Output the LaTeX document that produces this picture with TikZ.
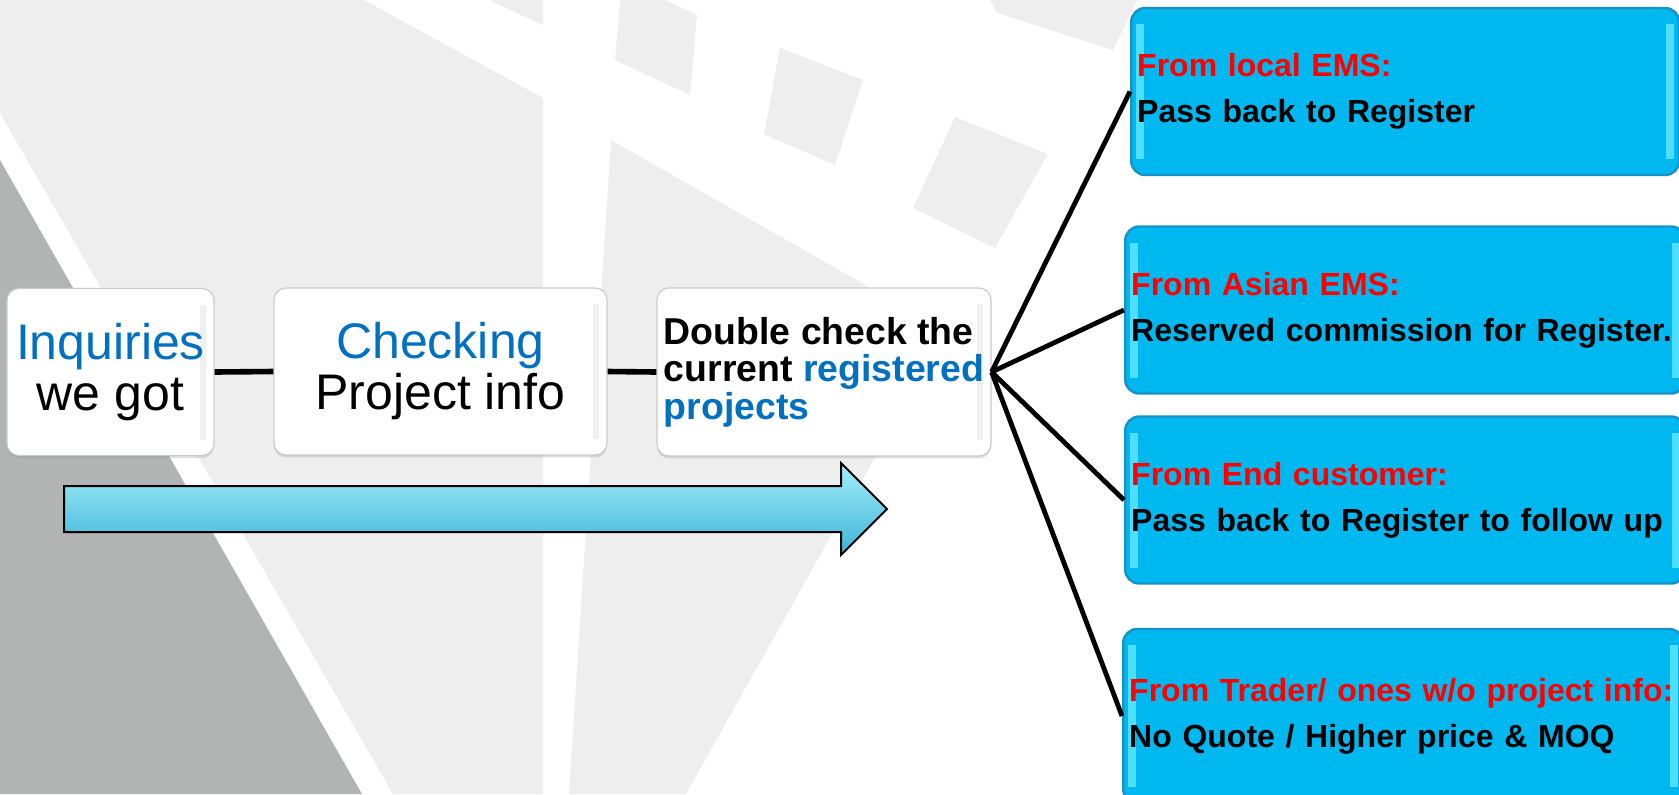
\documentclass[tikz,border=0pt]{standalone}
\usepackage{fontspec}
\setmainfont{Liberation Sans}
\usetikzlibrary{shadows}
\definecolor{boxblue}{RGB}{0,184,240}
\definecolor{boxedge}{RGB}{22,146,200}
\definecolor{boxshine}{RGB}{80,222,255}
\definecolor{txtblue}{RGB}{0,112,192}
\definecolor{bgpale}{RGB}{238,238,238}
\definecolor{bgdark}{RGB}{178,180,179}
\definecolor{arrtop}{RGB}{165,238,250}
\definecolor{arrbot}{RGB}{60,180,215}
\begin{document}
\begin{tikzpicture}[x=0.5pt,y=-0.5pt,
                    stepbox/.style={draw=gray!40,line width=0.6pt,fill=white,rounded corners=6pt,
                      minimum height=83.5pt,inner sep=2pt,align=center,
                      drop shadow={opacity=0.25,shadow xshift=0pt,shadow yshift=-1.2pt},
                      path picture={\fill[gray!12,sharp corners] ([xshift=-7pt,yshift=-8pt]path picture bounding box.north east)
                        rectangle ([xshift=-4pt,yshift=8pt]path picture bounding box.south east);}},
                    srcbox/.style={draw=boxedge,line width=1.2pt,fill=boxblue,rounded corners=7pt,
                      minimum height=83.5pt,inner xsep=3pt,align=left,anchor=west,
                      font=\fontsize{16}{23}\selectfont\bfseries,
                      path picture={\fill[boxshine,sharp corners] ([xshift=2.5pt,yshift=-8pt]path picture bounding box.north west)
                        rectangle ([xshift=6.5pt,yshift=8pt]path picture bounding box.south west);
                        \fill[boxshine,sharp corners] ([xshift=-6.5pt,yshift=-8pt]path picture bounding box.north east)
                        rectangle ([xshift=-2.5pt,yshift=8pt]path picture bounding box.south east);}},
                    joinline/.style={line width=2.8pt},
                    fanline/.style={line width=2.4pt}]
                     \useasboundingbox (0,0) rectangle (1679,794);
                     \clip (0,0) rectangle (1679,794);
                     \fill[white] (0,0) rectangle (1679,794);
                     \fill[bgpale] (0,0) -- (364,0) -- (543,98) -- (543,794) -- (393,794) -- (0,113) -- cycle;
                     \fill[bgpale] (489,0) -- (543,0) -- (543,25) -- cycle;
                     \fill[bgpale] (611,140) -- (946,331) -- (686,794) -- (569,794) -- cycle;
                     \fill[bgpale] (622,-20) -- (697,15) -- (690,95) -- (615,60) -- cycle;
                     \fill[bgpale] (780,48) -- (863,80) -- (835,165) -- (764,134) -- cycle;
                     \fill[bgpale] (955,117) -- (1048,154) -- (995,248) -- (913,208) -- cycle;
                     \fill[bgpale] (990,0) -- (997,13) -- (1113,50) -- (1137,0) -- cycle;
                     \fill[bgdark] (0,160) -- (362,794) -- (0,794) -- cycle;
                     \node[stepbox,minimum width=103.5pt,font=\fontsize{25}{25.5}\selectfont] (inq) at (110.5,372)
                       {{\color{txtblue}Inquiries}\\we got};
                     \node[stepbox,minimum width=166.5pt,font=\fontsize{25}{25.5}\selectfont] (chk) at (440.5,371.5)
                       {{\color{txtblue}Checking}\\Project info};
                     \node[stepbox,minimum width=167pt,minimum height=84pt,align=left,
                       font=\fontsize{18.7}{18.75}\selectfont\bfseries] (dbl) at (824,372)
                       {Double check the\\current {\color{txtblue}registered}\\{\color{txtblue}projects}};
                     \draw[line width=1pt,line join=miter,top color=arrtop,bottom color=arrbot]
                       (64,486) -- (841,486) -- (841,463) -- (887,509) -- (841,555) -- (841,532) -- (64,532) -- cycle;
                     \node[srcbox,text width=268pt] (local) at (1130,91.5)
                       {{\color{red}From local EMS:}\\Pass back to Register};
                     \node[srcbox,text width=274pt] (asian) at (1124,310)
                       {{\color{red}From Asian EMS:}\\Reserved commission for Register.};
                     \node[srcbox,text width=274pt] (endc) at (1124,500)
                       {{\color{red}From End customer:}\\Pass back to Register to follow up};
                     \node[srcbox,text width=274pt,minimum height=87pt] (trader) at (1122,716)
                       {{\color{red}From Trader/ ones w/o project info:}\\No Quote / Higher price \& MOQ};
                     \draw[joinline] (inq.east) -- (chk.west);
                     \draw[joinline] (chk.east) -- (dbl.west);
                     \foreach \T in {local,asian,endc,trader}
                     \draw[fanline] (dbl.east) -- (\T.west);
                 \end{tikzpicture}
\end{document}
